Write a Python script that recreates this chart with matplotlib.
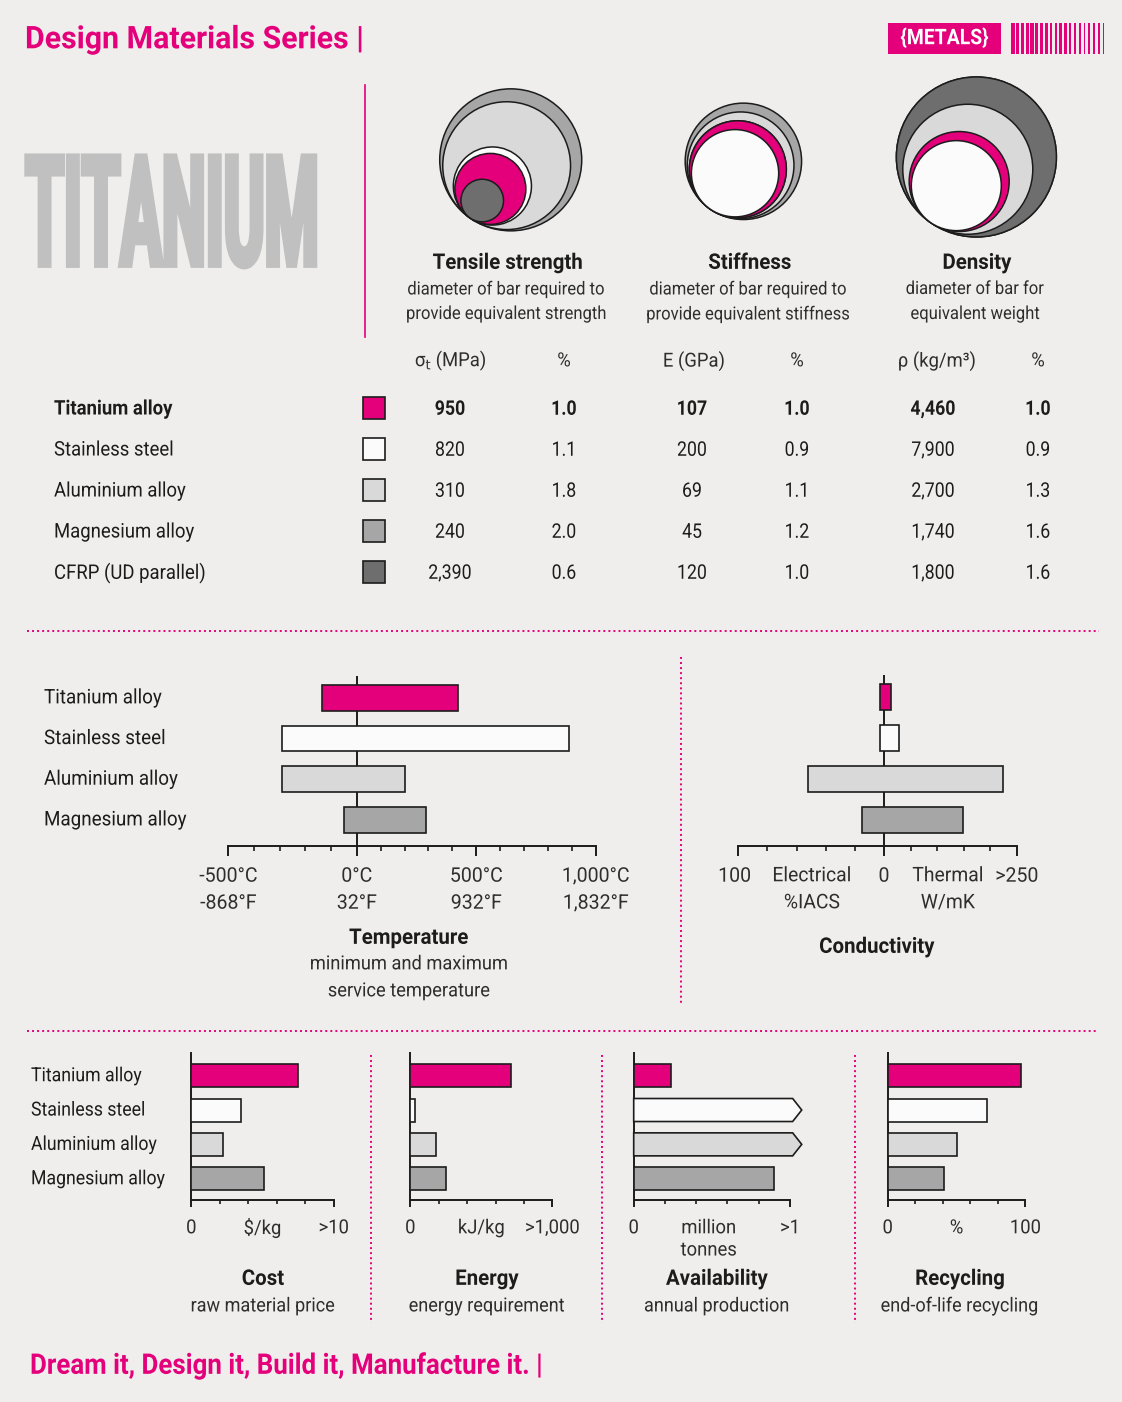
import numpy as np
import matplotlib
matplotlib.use('Agg')
import matplotlib.pyplot as plt
from matplotlib.patches import Circle, Rectangle, Polygon
from matplotlib import patheffects
from matplotlib.transforms import Affine2D, blended_transform_factory

# ---------------- data ----------------
materials = ['Titanium alloy', 'Stainless steel', 'Aluminium alloy',
             'Magnesium alloy', 'CFRP (UD parallel)']
tensile_mpa = ['950', '820', '310', '240', '2,390']
tensile_pct = [1.0, 1.1, 1.8, 2.0, 0.6]
stiff_gpa = ['107', '200', '69', '45', '120']
stiff_pct = [1.0, 0.9, 1.1, 1.2, 1.0]
density_kgm3 = ['4,460', '7,900', '2,700', '1,740', '1,800']
density_pct = [1.0, 0.9, 1.3, 1.6, 1.6]

metals = materials[:4]
temp_min_c = [-135, -290, -290, -50]
temp_max_c = [425, 890, 200, 290]
temp_ticks_c = [-500, 0, 500, 1000]
temp_labels_c = ['-500°C', '0°C', '500°C', '1,000°C']
temp_labels_f = ['-868°F', '32°F', '932°F', '1,832°F']

elec_iacs = [3, 2.5, 52, 15]
therm_wmk = [13, 28, 225, 148]

cost_usd_kg = [7.5, 3.5, 2.2, 5.1]
energy_kj_kg = [710, 35, 180, 250]
avail_mt = [0.24, 1.0, 1.0, 0.9]
avail_over = [False, True, True, False]
recycle_pct = [97, 72, 50, 41]

# ---------------- style ----------------
W, H = 1122, 1402
BG = '#efeeec'
PINK = '#e4007a'
EDGE = '#1c1c1c'
TXT = '#1c1c1c'
SUB = '#2e2e2e'
colors = [PINK, '#fbfbfb', '#d9d9d9', '#a6a6a6', '#6e6e6e']
plt.rcParams['font.family'] = ['Roboto', 'DejaVu Sans']
plt.rcParams['mathtext.fontset'] = 'dejavusans'

fig = plt.figure(figsize=(W / 100, H / 100), dpi=100)
fig.patch.set_facecolor(BG)

ov = fig.add_axes([0, 0, 1, 1])
ov.set_xlim(0, W)
ov.set_ylim(H, 0)
ov.axis('off')


class Stretch(patheffects.AbstractPathEffect):
    """Draw a text with its glyphs scaled (the text stays a real text artist)."""
    def __init__(self, sx=1.0, sy=1.0, anchor='center', y0=0.0, stroke=0.0):
        super().__init__()
        self.sx, self.sy, self.anchor, self.y0, self.stroke = sx, sy, anchor, y0, stroke

    def draw_path(self, renderer, gc, tpath, affine, rgbFace=None):
        ext = tpath.get_extents()
        if self.anchor == 'center':
            cx = 0.5 * (ext.x0 + ext.x1)
        elif self.anchor == 'right':
            cx = ext.x1
        else:
            cx = 0.0
        t = (Affine2D().translate(-cx, -self.y0).scale(self.sx, self.sy)
             .translate(cx, self.y0) + affine)
        gc0 = renderer.new_gc()
        gc0.copy_properties(gc)
        if self.stroke:
            gc0.set_linewidth(self.stroke)
            gc0.set_foreground(rgbFace)
            gc0.set_joinstyle('miter')
        renderer.draw_path(gc0, tpath, t, rgbFace)
        gc0.restore()


SX = 0.92   # condensing factor (narrower letters, like the DIN face of the original)


def px_axes(left, top, width, height):
    ax = fig.add_axes([left / W, 1 - (top + height) / H, width / W, height / H])
    ax.set_facecolor('none')
    return ax


def txt(ax, x, y, s, size=14.5, weight='normal', color=TXT, ha='center', va='center',
        sx=SX, **kw):
    # font set at size*sx, glyphs stretched back to full height => condensed look
    return ax.text(x, y, s, fontsize=size * sx, fontweight=weight, color=color, ha=ha, va=va,
                   path_effects=[Stretch(1.0, 1.0 / sx, ha, 32)], **kw)


def T(x, y, s, **kw):
    return txt(ov, x, y, s, **kw)


# ---------------- header ----------------
T(25, 40, 'Design Materials Series |', size=22.5, weight='bold', color=PINK, ha='left', sx=0.97)
ov.add_patch(Rectangle((888, 23), 113, 31, fc=PINK, ec='none'))
T(944.5, 38.5, '{METALS}', size=15.5, weight='bold', color='white', sx=0.9)
sx_ = np.linspace(1011, 1103, 20)
sw_ = np.linspace(3.6, 1.4, 20)
for x0, w0 in zip(sx_, sw_):
    ov.add_patch(Rectangle((x0, 23), w0, 31, fc=PINK, ec='none'))

ov.text(25.5, 265.5, 'TITANIUM', fontsize=44.6, fontweight='bold', color='#c0c0c0', ha='left',
        va='baseline', family='Roboto',
        path_effects=[Stretch(1.0, 2.49, 'left', 0, 3.5)])
ov.plot([365, 365], [85, 337], color=PINK, lw=1.2)

# ---------------- circles ----------------
def circle_panel(pct, tx, ty, k):
    bl, bt, bw, bh = tx - 60, ty - 180, 235, 210
    ax = px_axes(bl, bt, bw, bh)
    ax.set_xlim((bl - tx) / k, (bl + bw - tx) / k)
    ax.set_ylim((ty - (bt + bh)) / k, (ty - bt) / k)
    ax.axis('off')
    order = sorted(range(len(pct)), key=lambda i: (-pct[i], 1 if i == 0 else 0, i))
    c, s = np.cos(np.radians(55)), np.sin(np.radians(55))
    for i in order:
        r = pct[i] / 2
        ax.add_patch(Circle((r * c, r * s), r, fc=colors[i], ec=EDGE, lw=1.1))

circle_panel(tensile_pct, 470, 218, 71)
circle_panel(stiff_pct, 710, 209, 97)
circle_panel(density_pct, 930.5, 222.5, 100)

for x, title, l1, l2 in [(508, 'Tensile strength', 'diameter of bar required to', 'provide equivalent strength'),
                         (750, 'Stiffness', 'diameter of bar required to', 'provide equivalent stiffness'),
                         (977, 'Density', 'diameter of bar for', 'equivalent weight')]:
    T(x, 263, title, size=15.5, weight='bold', sx=0.95)
    T(x - 2, 289, l1, size=13, color=SUB)
    T(x - 2, 314, l2, size=13, color=SUB)

# ---------------- table ----------------
hdr_x = [451, 564, 694, 797, 937, 1038]
for x, h in zip(hdr_x, ['σ$_\\mathrm{t}$ (MPa)', '%', 'E (GPa)', '%', 'ρ (kg/m³)', '%']):
    T(x, 361, h, size=14, color=SUB, sx=0.95)

col_x = [450, 564, 692, 797, 933, 1038]
row_y = [408, 449, 490, 531, 572]
for i, name in enumerate(materials):
    y = row_y[i]
    wt = 'bold' if i == 0 else 'normal'
    T(54, y + 1, name, size=14.5, weight=wt, ha='left')
    ov.add_patch(Rectangle((363, y - 11), 22, 22, fc=colors[i], ec=EDGE, lw=1.2))
    vals = [tensile_mpa[i], f'{tensile_pct[i]:.1f}', stiff_gpa[i], f'{stiff_pct[i]:.1f}',
            density_kgm3[i], f'{density_pct[i]:.1f}']
    for x, v in zip(col_x, vals):
        T(x, y + 1, v, size=14.5, weight=wt, sx=0.88)

# ---------------- separators ----------------
DOT = dict(color=PINK, lw=1.4, ls=(0, (1, 1.6)))
ov.plot([27, 1099], [631, 631], **DOT)
ov.plot([27, 1097], [1031, 1031], **DOT)
ov.plot([681, 681], [657, 1003], **DOT)
for x in [371, 602, 855]:
    ov.plot([x, x], [1055, 1323], **DOT)


def style_axis(ax, keep=('bottom',), lw=1.4):
    for side, sp in ax.spines.items():
        sp.set_visible(side in keep)
        sp.set_linewidth(lw)
        sp.set_color(EDGE)
    ax.set_yticks([])
    ax.tick_params(axis='x', which='both', direction='out', color=EDGE, labelbottom=False)


# ---------------- temperature ----------------
tax = px_axes(228.3, 676, 367.4, 170)
tax.set_xscale('function', functions=(lambda x: np.where(x < 0, x * 1.075, x),
                                      lambda x: np.where(x < 0, x / 1.075, x)))
tax.set_xlim(-500, 1000)
tax.set_ylim(3.64, -0.54)
tax.axvline(0, color=EDGE, lw=1.4, zorder=1)
tax.barh(range(4), np.array(temp_max_c) - np.array(temp_min_c), left=temp_min_c, height=0.63,
         color=colors[:4], edgecolor=EDGE, lw=1.2, zorder=3)
style_axis(tax)
tax.set_xticks(temp_ticks_c)
tax.set_xticks([v for v in range(-400, 1000, 100) if v not in temp_ticks_c], minor=True)
tax.tick_params(axis='x', which='major', length=7.2, width=1.4)
tax.tick_params(axis='x', which='minor', length=3.6, width=1.2)
bt_t = blended_transform_factory(tax.transData, ov.transData)
for v, lc, lf in zip(temp_ticks_c, temp_labels_c, temp_labels_f):
    txt(tax, v, 876, lc, transform=bt_t, size=14.5, color=SUB, sx=0.97)
    txt(tax, v, 903, lf, transform=bt_t, size=14.5, color=SUB, sx=0.97)
bl_t = blended_transform_factory(ov.transData, tax.transData)
for i, name in enumerate(metals):
    txt(tax, 44, i, name, transform=bl_t, ha='left', size=14.5, sx=0.935)
T(409, 938, 'Temperature', size=15.5, weight='bold', sx=0.95)
T(409, 964, 'minimum and maximum', size=14, color=SUB, sx=0.94)
T(409, 991, 'service temperature', size=14, color=SUB, sx=0.94)

# ---------------- conductivity ----------------
cax = px_axes(738.3, 675, 278.45, 171)
cax.set_xscale('function', functions=(lambda x: np.where(x < 0, x * 1.457, x * 0.531),
                                      lambda x: np.where(x < 0, x / 1.457, x / 0.531)))
cax.set_xlim(-100, 250)
cax.set_ylim(3.64, -0.54)
cax.axvline(0, color=EDGE, lw=1.4, zorder=1)
left = -np.array(elec_iacs, float)
cax.barh(range(4), np.array(therm_wmk) - left, left=left, height=0.63,
         color=colors[:4], edgecolor=EDGE, lw=1.2, zorder=3)
style_axis(cax)
cax.set_xticks([-100, 0, 250])
cax.set_xticks([-80, -60, -40, -20, 50, 100, 150, 200], minor=True)
cax.tick_params(axis='x', which='major', length=7.2, width=1.4)
cax.tick_params(axis='x', which='minor', length=3.6, width=1.2)
bt_c = blended_transform_factory(cax.transData, ov.transData)
txt(cax, -102.5, 876, '100', transform=bt_c, size=14.5, color=SUB, sx=0.97)
txt(cax, 0, 876, '0', transform=bt_c, size=14.5, color=SUB, sx=0.97)
txt(cax, 250, 876, '>250', transform=bt_c, size=14.5, color=SUB, sx=0.97)
T(812, 876, 'Electrical', size=14.5, color=SUB, sx=0.96)
T(812, 903, '%IACS', size=14.5, color=SUB, sx=0.96)
T(948, 876, 'Thermal', size=14.5, color=SUB, sx=0.96)
T(948, 903, 'W/mK', size=14.5, color=SUB, sx=0.96)
T(877, 947, 'Conductivity', size=15.5, weight='bold', sx=0.95)

# ---------------- bottom panels ----------------
def bottom_panel(left, width, vals, xmax, minors, lab0, labmid, labmax, title, sub,
                 title_x, over=None):
    ax = px_axes(left, 1053, width, 147)
    ax.set_xlim(0, xmax)
    ax.set_ylim(3.62, -0.66)
    h = 0.67
    for i, v in enumerate(vals):
        if over is not None and over[i]:
            x1, x2 = v * 1.017, v * 1.075
            poly = Polygon([(0, i - h / 2), (x1, i - h / 2), (x2, i), (x1, i + h / 2), (0, i + h / 2)],
                           closed=True, fc=colors[i], ec=EDGE, lw=1.2, clip_on=False, zorder=3)
            ax.add_patch(poly)
        else:
            ax.barh(i, v, height=h, color=colors[i], edgecolor=EDGE, lw=1.2, zorder=3)
    style_axis(ax, keep=('bottom', 'left'))
    ax.set_xticks([0, xmax])
    ax.set_xticks(minors, minor=True)
    ax.tick_params(axis='x', which='major', length=5.2, width=1.4)
    ax.tick_params(axis='x', which='minor', length=3.0, width=1.2)
    bt = blended_transform_factory(ax.transData, ov.transData)
    txt(ax, 0, 1228, lab0, transform=bt, size=14, color=SUB, sx=0.95)
    txt(ax, xmax, 1228, labmax, transform=bt, size=14, color=SUB, sx=0.95)
    bm = blended_transform_factory(ax.transAxes, ov.transData)
    two = '\n' in labmid
    txt(ax, 0.48 if two else 0.5, 1219 if two else 1228, labmid, transform=bm,
        va='top' if two else 'center', size=14, color=SUB, sx=0.95, linespacing=1.3)
    T(title_x, 1279, title, size=15.5, weight='bold', sx=0.95)
    T(title_x, 1306, sub, size=14, color=SUB, sx=0.93)
    return ax

cost_ax = bottom_panel(191.3, 142.4, cost_usd_kg, 10, [2, 4, 6, 8], '0', r'\$/kg', '>10',
                       'Cost', 'raw material price', 263)
bottom_panel(410.3, 142.0, energy_kj_kg, 1000, [200, 400, 600, 800], '0', 'kJ/kg', '>1,000',
             'Energy', 'energy requirement', 487)
bottom_panel(633.7, 156.3, avail_mt, 1, [0.2, 0.4, 0.6, 0.8], '0', 'million\ntonnes', '>1',
             'Availability', 'annual production', 717, over=avail_over)
bottom_panel(887.7, 137.7, recycle_pct, 100, [20, 40, 60, 80], '0', '%', '100',
             'Recycling', 'end-of-life recycling', 960)

bl_b = blended_transform_factory(ov.transData, cost_ax.transData)
for i, name in enumerate(metals):
    txt(cost_ax, 31, i, name, transform=bl_b, ha='left', size=14, sx=0.91)

# ---------------- footer ----------------
T(30, 1366, 'Dream it, Design it, Build it, Manufacture it. |', size=20.5, weight='bold',
  color=PINK, ha='left', sx=0.91)

fig.savefig('out.png', dpi=100, facecolor=BG)
